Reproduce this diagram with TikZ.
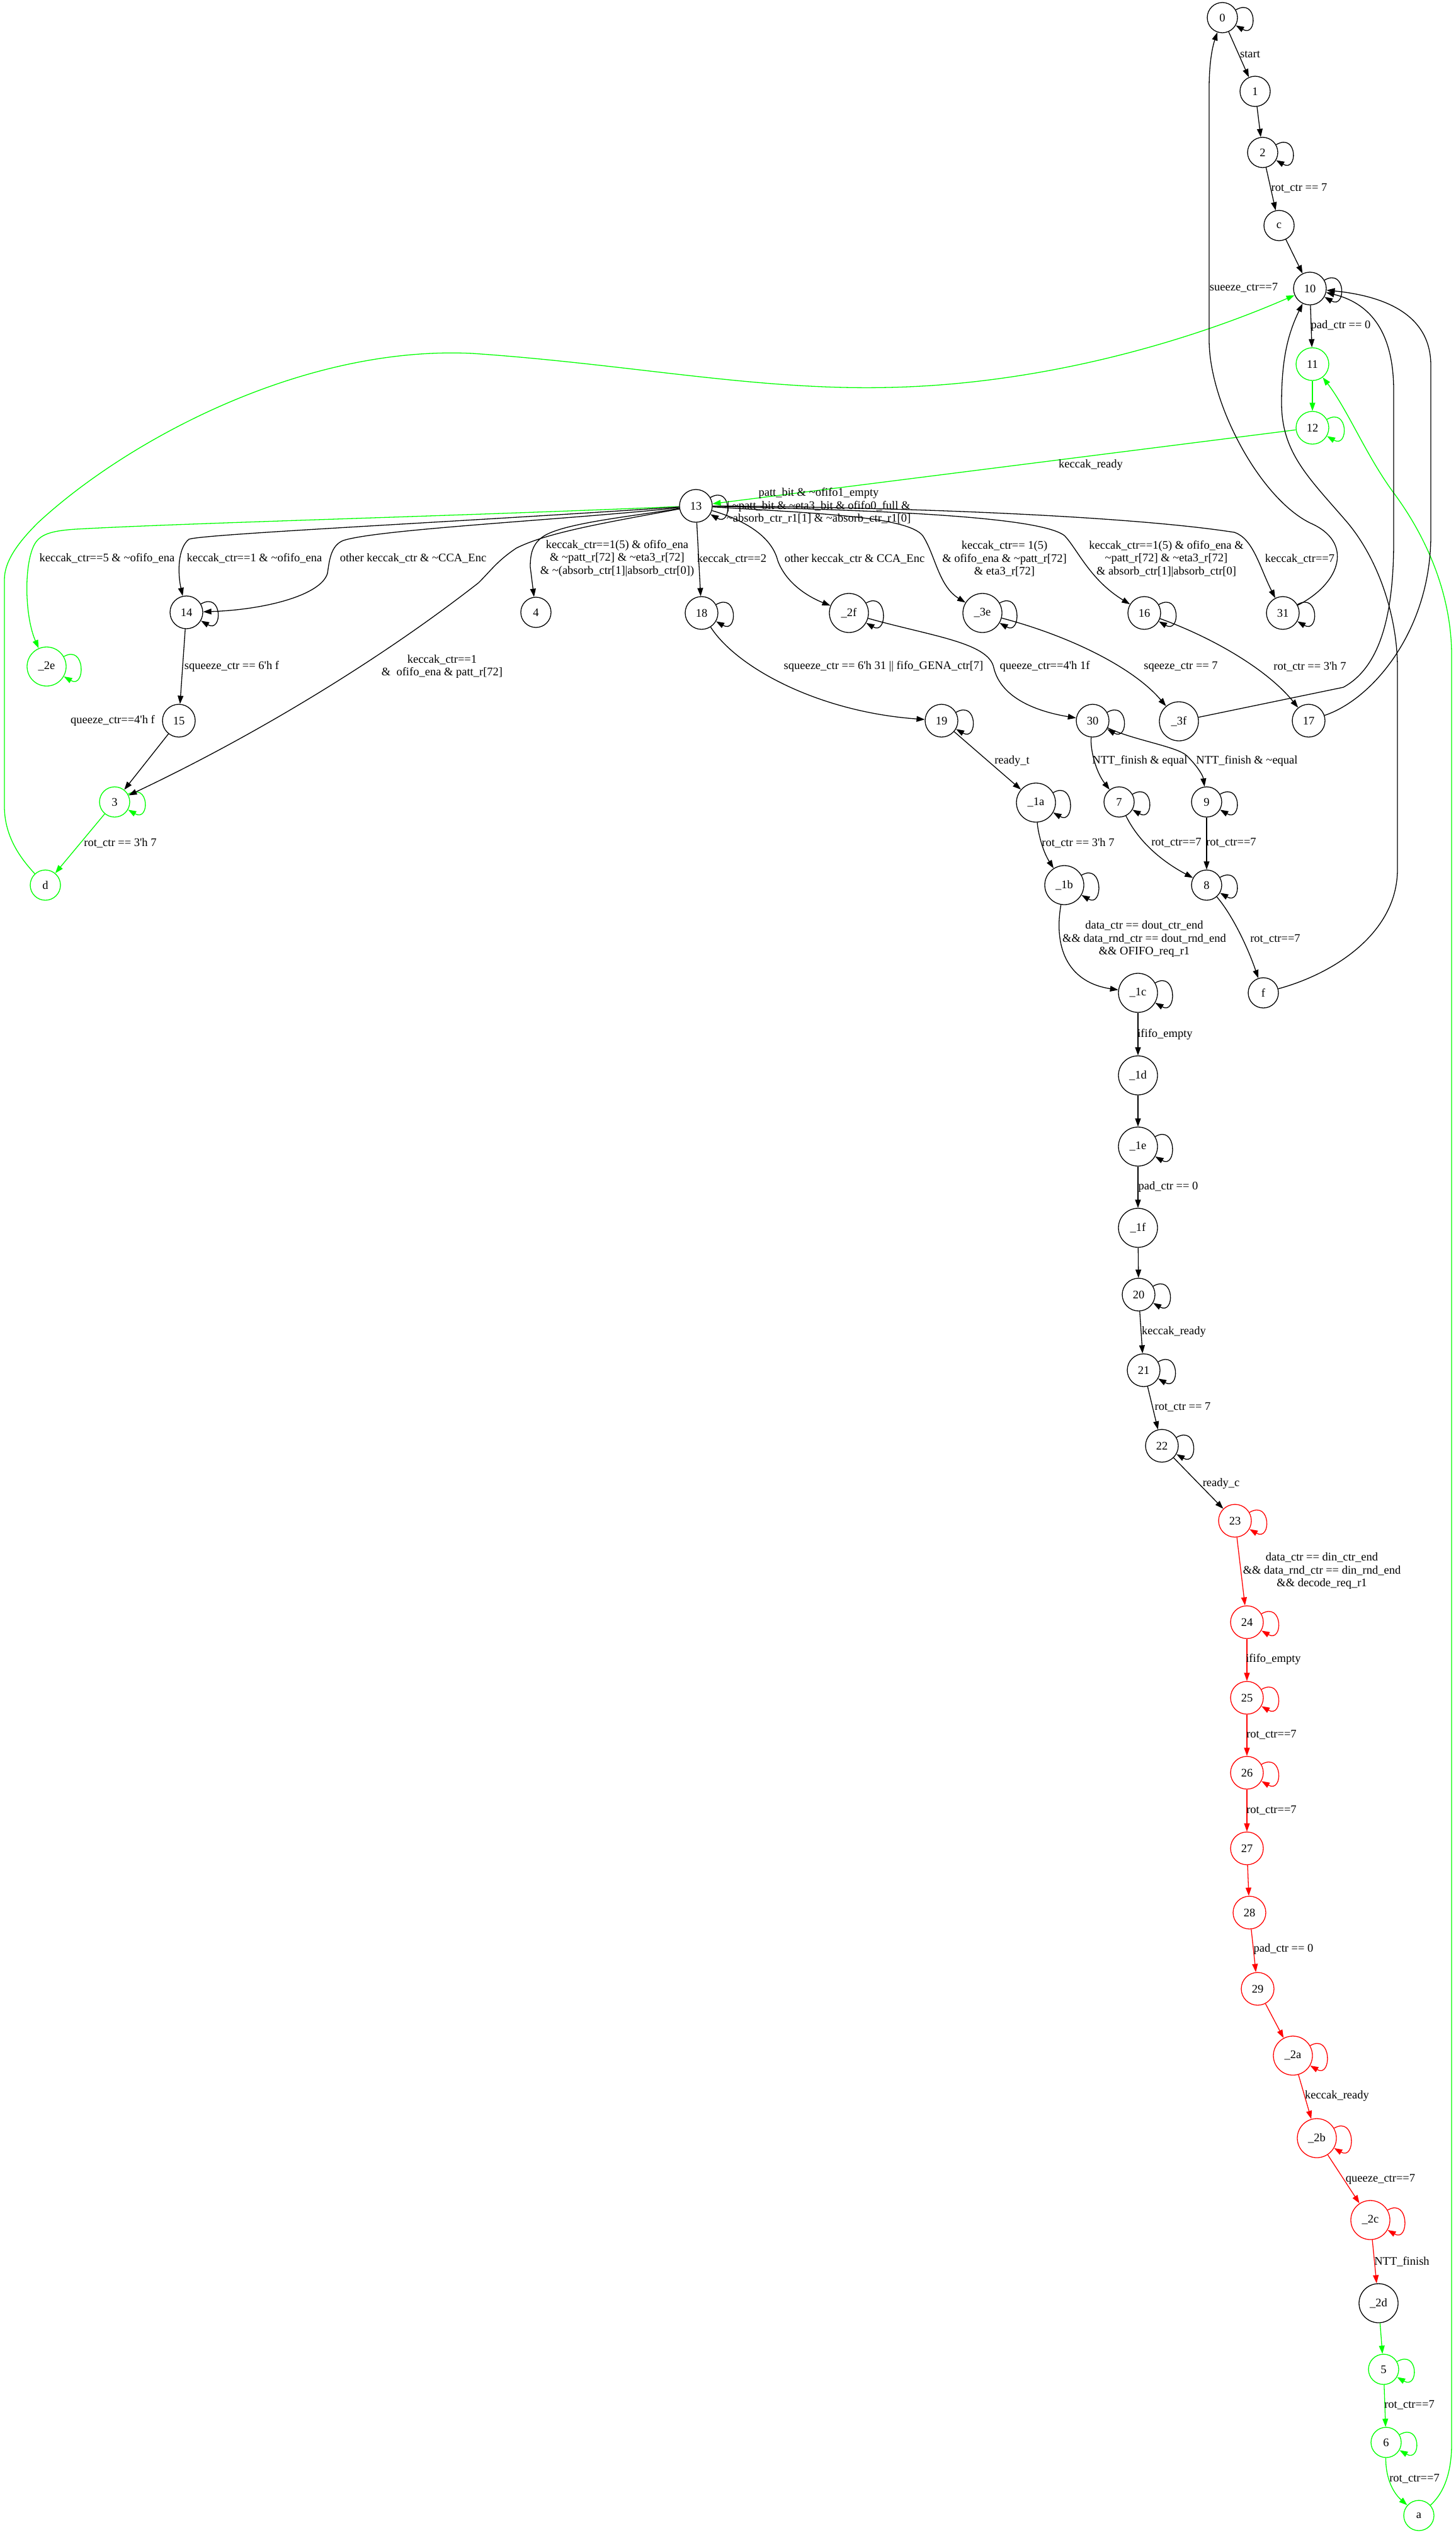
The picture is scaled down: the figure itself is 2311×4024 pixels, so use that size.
\documentclass[tikz,border=0pt]{standalone}
\usepackage{fontspec}
\setmainfont{Liberation Serif}
\usetikzlibrary{arrows.meta}
\definecolor{gvgreen}{RGB}{0,255,0}
\definecolor{gvred}{RGB}{255,0,0}
\newcommand\gvf{\fontsize{18.5pt}{20.5pt}\selectfont}
\newcommand\tld{\textasciitilde}
\newcommand\sq{\textquotesingle}
\begin{document}
\begin{tikzpicture}[x=1pt,y=-1pt,
  st/.style={circle,draw,line width=1.3pt,inner sep=1pt,minimum size=48pt,font=\gvf},
  s2/.style={st,minimum size=52pt},
  s3/.style={st,minimum size=62pt},
  gn/.style={draw=gvgreen},
  rd/.style={draw=gvred},
  tr/.style={line width=1.3pt,-{Triangle[length=13pt,width=9pt]}},
  gtr/.style={tr,color=gvgreen},
  rtr/.style={tr,color=gvred},
  lp/.style={out=30,in=-30,min distance=40pt},
  lbl/.style={font=\gvf,align=center,inner sep=0pt}]
\useasboundingbox (0,0) rectangle (2311,4024);

% ---------- states ----------
\node[st] (n0) at (1941,28) {0};
\node[st] (n1) at (1993,145) {1};
\node[st] (n2) at (2005,242) {2};
\node[st] (nc) at (2031,358) {c};
\node[s2] (n10) at (2080,458) {10};
\node[s2,gn] (n11) at (2084,578) {11};
\node[s2,gn] (n12) at (2084,679) {12};
\node[s2] (n13) at (1105,803) {13};
\node[s2] (n14) at (296,972) {14};
\node[st] (n4) at (851,972) {4};
\node[s2] (n18) at (1114,973) {18};
\node[s3] (n2f) at (1348,973) {\_2f};
\node[s3] (n3e) at (1560,973) {\_3e};
\node[s2] (n16) at (1817,973) {16};
\node[s2] (n31) at (2037,973) {31};
\node[s3,gn] (n2e) at (74,1058) {\_2e};
\node[s2] (n15) at (284,1144) {15};
\node[s2] (n19) at (1495,1144) {19};
\node[s2] (n30) at (1735,1144) {30};
\node[s3] (n3f) at (1872,1145) {\_3f};
\node[s2] (n17) at (2078,1144) {17};
\node[st,gn] (n3) at (182,1273) {3};
\node[s3] (n1a) at (1645,1274) {\_1a};
\node[st] (n7) at (1777,1273) {7};
\node[st] (n9) at (1916,1273) {9};
\node[st,gn] (nd) at (72,1405) {d};
\node[s3] (n1b) at (1690,1405) {\_1b};
\node[st] (n8) at (1916,1405) {8};
\node[s3] (n1c) at (1807,1576) {\_1c};
\node[st] (nf) at (2006,1576) {f};
\node[s3] (n1d) at (1807,1707) {\_1d};
\node[s3] (n1e) at (1807,1820) {\_1e};
\node[s3] (n1f) at (1807,1949) {\_1f};
\node[s2] (n20) at (1808,2055) {20};
\node[s2] (n21) at (1816,2175) {21};
\node[s2] (n22) at (1845,2295) {22};
\node[s2,rd] (n23) at (1961,2414) {23};
\node[s2,rd] (n24) at (1980,2575) {24};
\node[s2,rd] (n25) at (1980,2695) {25};
\node[s2,rd] (n26) at (1980,2814) {26};
\node[s2,rd] (n27) at (1980,2934) {27};
\node[s2,rd] (n28) at (1984,3036) {28};
\node[s2,rd] (n29) at (1997,3157) {29};
\node[s3,rd] (n2a) at (2053,3263) {\_2a};
\node[s3,rd] (n2b) at (2091,3394) {\_2b};
\node[s3,rd] (n2c) at (2176,3524) {\_2c};
\node[s3] (n2d) at (2189,3656) {\_2d};
\node[st,gn] (n5) at (2197,3761) {5};
\node[st,gn] (n6) at (2201,3877) {6};
\node[st,gn] (na) at (2253,3993) {a};

% ---------- self loops ----------
\foreach \n in {n0,n2,n10,n13,n14,n18,n2f,n3e,n16,n31,n19,n30,n1a,n7,n9,n1b,n8,n1c,n1e,n20,n21,n22}
  \draw[tr] (\n) to[lp] (\n);
\foreach \n in {n12,n2e,n3,n5,n6}
  \draw[gtr] (\n) to[lp] (\n);
\foreach \n in {n23,n24,n25,n26,n2a,n2b,n2c}
  \draw[rtr] (\n) to[lp] (\n);

% ---------- straight transitions ----------
\draw[tr] (n0) -- (n1);
\draw[tr] (n1) -- (n2);
\draw[tr] (n2) -- (nc);
\draw[tr] (nc) -- (n10);
\draw[tr] (n10) -- (n11);
\draw[gtr] (n11) -- (n12);
\draw[gtr] (n12) -- (n13);
\draw[tr] (n13) -- (n18);
\draw[tr] (n14) -- (n15);
\draw[tr] (n15) -- (n3);
\draw[gtr] (n3) -- (nd);
\draw[tr] (n19) -- (n1a);
\draw[tr] (n9) -- (n8);
\draw[tr] (n1c) -- (n1d);
\draw[tr] (n1d) -- (n1e);
\draw[tr] (n1e) -- (n1f);
\draw[tr] (n1f) -- (n20);
\draw[tr] (n20) -- (n21);
\draw[tr] (n21) -- (n22);
\draw[tr] (n22) -- (n23);
\draw[rtr] (n23) -- (n24);
\draw[rtr] (n24) -- (n25);
\draw[rtr] (n25) -- (n26);
\draw[rtr] (n26) -- (n27);
\draw[rtr] (n27) -- (n28);
\draw[rtr] (n28) -- (n29);
\draw[rtr] (n29) -- (n2a);
\draw[rtr] (n2a) -- (n2b);
\draw[rtr] (n2b) -- (n2c);
\draw[rtr] (n2c) -- (n2d);
\draw[gtr] (n2d) -- (n5);
\draw[gtr] (n5) -- (n6);

% ---------- curved transitions ----------
\draw[gtr] (n6) .. controls (2200,3930) and (2210,3955) .. (na);
\draw[gtr] (na) .. controls (2290,3960) and (2305,3930) .. (2305,3880) -- (2305,1040)
   .. controls (2305,950) and (2270,860) .. (2215,785) .. controls (2170,725) and (2140,650) .. (n11);
\draw[gtr] (nd) .. controls (35,1365) and (7,1330) .. (7,1280) -- (7,920)
   .. controls (7,890) and (30,860) .. (60,830) .. controls (200,700) and (480,548) .. (750,561)
   .. controls (1000,578) and (1200,620) .. (1411,615) .. controls (1650,610) and (1880,545) .. (n10);
\draw[tr] (n31) .. controls (2130,925) and (2150,860) .. (2080,830)
   .. controls (2000,790) and (1920,640) .. (1920,540) -- (1920,140)
   .. controls (1920,100) and (1925,75) .. (n0);
\draw[tr] (n3f) -- (2133,1091) .. controls (2190,1060) and (2213,980) .. (2213,860) -- (2213,620)
   .. controls (2213,520) and (2170,480) .. (n10);
\draw[tr] (n17) .. controls (2180,1110) and (2272,1000) .. (2272,850) -- (2272,580)
   .. controls (2272,500) and (2200,470) .. (n10);
\draw[tr] (nf) .. controls (2120,1545) and (2219,1480) .. (2219,1380) -- (2219,1060)
   .. controls (2219,980) and (2190,890) .. (2140,830) .. controls (2080,760) and (2035,720) .. (2035,640)
   .. controls (2035,570) and (2045,530) .. (n10);

\draw[gtr] (n13) .. controls (700,820) and (300,830) .. (120,840) .. controls (75,843) and (60,850) .. (52,870)
   .. controls (38,905) and (40,980) .. (n2e);
\draw[tr] (n13) .. controls (700,830) and (320,848) .. (300,856) .. controls (282,870) and (282,910) .. (n14);
\draw[tr] (n13) .. controls (900,825) and (600,840) .. (545,858) .. controls (525,866) and (523,890) .. (520,910)
   .. controls (510,945) and (420,968) .. (n14);
\draw[tr] (n13) .. controls (960,830) and (870,845) .. (820,870) .. controls (790,890) and (780,905) .. (760,925)
   .. controls (600,1050) and (400,1170) .. (n3);
\draw[tr] (n13) .. controls (1000,820) and (900,830) .. (865,850) .. controls (845,862) and (842,880) .. (842,900) -- (n4);
\draw[tr] (n13) .. controls (1180,825) and (1225,850) .. (1235,890) .. controls (1250,930) and (1290,950) .. (n2f);
\draw[tr] (n13) .. controls (1300,815) and (1440,820) .. (1465,850) .. controls (1485,880) and (1490,930) .. (n3e);
\draw[tr] (n13) .. controls (1400,810) and (1650,820) .. (1690,850) .. controls (1710,870) and (1730,920) .. (n16);
\draw[tr] (n13) .. controls (1450,805) and (1800,820) .. (1960,845) .. controls (1990,855) and (2000,900) .. (n31);

\draw[tr] (n18) .. controls (1170,1060) and (1300,1130) .. (n19);
\draw[tr] (n2f) .. controls (1480,1010) and (1570,1020) .. (1578,1060) .. controls (1590,1110) and (1650,1130) .. (n30);
\draw[tr] (n3e) .. controls (1700,1010) and (1800,1060) .. (n3f);
\draw[tr] (n16) .. controls (1920,1010) and (2010,1060) .. (n17);
\draw[tr] (n30) .. controls (1731,1190) and (1740,1225) .. (n7);
\draw[tr] (n30) .. controls (1800,1175) and (1870,1185) .. (1885,1200) .. controls (1900,1215) and (1910,1230) .. (n9);
\draw[tr] (n1a) .. controls (1648,1320) and (1655,1350) .. (n1b);
\draw[tr] (n1b) .. controls (1672,1510) and (1700,1560) .. (n1c);
\draw[tr] (n7) .. controls (1810,1340) and (1850,1370) .. (n8);
\draw[tr] (n8) .. controls (1955,1450) and (1980,1500) .. (nf);

% ---------- transition labels ----------
\node[lbl] (t01) at (1985,86) {start};
\node[lbl] (t02) at (2063,299) {rot\_ctr == 7};
\node[lbl] (t03) at (1975,457) {sueeze\_ctr==7};
\node[lbl] (t04) at (2129,517) {pad\_ctr == 0};
\node[lbl] (t05) at (1732,738) {keccak\_ready};
\node[lbl] (t06) at (1300,803) {patt\_bit \& \tld ofifo1\_empty\\| \tld patt\_bit \& \tld eta3\_bit \& ofifo0\_full \&\\\tld absorb\_ctr\_r1[1] \& \tld absorb\_ctr\_r1[0]};
\node[lbl] (t07) at (170,886) {keccak\_ctr==5 \& \tld ofifo\_ena};
\node[lbl] (t08) at (404,886) {keccak\_ctr==1 \& \tld ofifo\_ena};
\node[lbl] (t09) at (656,886) {other keccak\_ctr \& \tld CCA\_Enc};
\node[lbl] (t10) at (980,886) {keccak\_ctr==1(5) \& ofifo\_ena\\\& \tld patt\_r[72] \& \tld eta3\_r[72]\\\& \tld (absorb\_ctr[1]|absorb\_ctr[0])};
\node[lbl] (t11) at (1162,887) {keccak\_ctr==2};
\node[lbl] (t12) at (1357,887) {other keccak\_ctr \& CCA\_Enc};
\node[lbl] (t13) at (1595,887) {keccak\_ctr== 1(5)\\\& ofifo\_ena \& \tld patt\_r[72]\\\& eta3\_r[72]};
\node[lbl] (t14) at (1852,887) {keccak\_ctr==1(5) \& ofifo\_ena \&\\\tld patt\_r[72] \& \tld eta3\_r[72]\\\& absorb\_ctr[1]|absorb\_ctr[0]};
\node[lbl] (t15) at (2064,887) {keccak\_ctr==7};
\node[lbl] (t16) at (702,1058) {keccak\_ctr==1\\\&\ \ ofifo\_ena \& patt\_r[72]};
\node[lbl] (t17) at (368,1058) {squeeze\_ctr == 6\sq h f};
\node[lbl] (t18) at (1403,1058) {squeeze\_ctr == 6\sq h 31 || fifo\_GENA\_ctr[7]};
\node[lbl] (t19) at (1659,1058) {queeze\_ctr==4\sq h 1f};
\node[lbl] (t20) at (1875,1058) {sqeeze\_ctr == 7};
\node[lbl] (t21) at (2080,1058) {rot\_ctr == 3\sq h 7};
\node[lbl] (t22) at (179,1144) {queeze\_ctr==4\sq h f};
\node[lbl] (t23) at (1607,1208) {ready\_t};
\node[lbl] (t24) at (1810,1208) {NTT\_finish \& equal};
\node[lbl] (t25) at (1980,1208) {NTT\_finish \& \tld equal};
\node[lbl] (t26) at (191,1338) {rot\_ctr == 3\sq h 7};
\node[lbl] (t27) at (1712,1338) {rot\_ctr == 3\sq h 7};
\node[lbl] (t28) at (1868,1338) {rot\_ctr==7};
\node[lbl] (t29) at (1955,1338) {rot\_ctr==7};
\node[lbl] (t30) at (1817,1491) {data\_ctr == dout\_ctr\_end\\\&\& data\_rnd\_ctr == dout\_rnd\_end\\\&\& OFIFO\_req\_r1};
\node[lbl] (t31) at (2025,1491) {rot\_ctr==7};
\node[lbl] (t32) at (1850,1642) {ififo\_empty};
\node[lbl] (t33) at (1855,1884) {pad\_ctr == 0};
\node[lbl] (t34) at (1864,2114) {keccak\_ready};
\node[lbl] (t35) at (1878,2234) {rot\_ctr == 7};
\node[lbl] (t36) at (1939,2355) {ready\_c};
\node[lbl] (t37) at (2099,2494) {data\_ctr == din\_ctr\_end\\\&\& data\_rnd\_ctr == din\_rnd\_end\\\&\& decode\_req\_r1};
\node[lbl] (t38) at (2022,2634) {ififo\_empty};
\node[lbl] (t39) at (2019,2754) {rot\_ctr==7};
\node[lbl] (t40) at (2019,2874) {rot\_ctr==7};
\node[lbl] (t41) at (2038,3094) {pad\_ctr == 0};
\node[lbl] (t42) at (2123,3327) {keccak\_ready};
\node[lbl] (t43) at (2192,3459) {queeze\_ctr==7};
\node[lbl] (t44) at (2226,3590) {NTT\_finish};
\node[lbl] (t45) at (2238,3818) {rot\_ctr==7};
\node[lbl] (t46) at (2246,3935) {rot\_ctr==7};
\end{tikzpicture}
\end{document}
